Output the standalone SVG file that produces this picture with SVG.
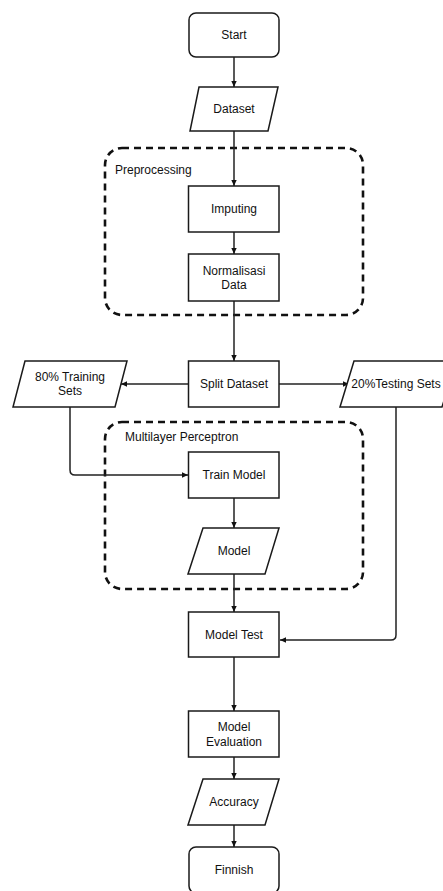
<svg xmlns="http://www.w3.org/2000/svg" width="443" height="891" viewBox="0 0 443 891">
<style>
.n{fill:#fff;stroke:#1a1a1a;stroke-width:1.5}
.t{font-family:"Liberation Sans",Arial,sans-serif;font-size:12px;fill:#111;text-anchor:middle;dominant-baseline:central}
.gl{font-family:"Liberation Sans",Arial,sans-serif;font-size:12px;fill:#111}
.grp{fill:none;stroke:#111;stroke-width:2.6;stroke-dasharray:7 5}
.c{fill:none;stroke:#222;stroke-width:1.5}
</style>
<defs>
<marker id="a" viewBox="0 0 10 10" refX="9" refY="5" markerWidth="7" markerHeight="7" orient="auto" markerUnits="userSpaceOnUse">
<path d="M0,1 L9,5 L0,9 Z" fill="#111"/>
</marker>
</defs>
<rect width="443" height="891" fill="#fff"/>
<g id="preprocessing">
<rect class="grp" x="105" y="148" width="258" height="167" rx="17"/>
<text class="gl" x="115" y="174">Preprocessing</text>
</g>
<g id="mlp">
<rect class="grp" x="105" y="422" width="258" height="167" rx="17"/>
<text class="gl" x="125" y="441">Multilayer Perceptron</text>
</g>
<g id="connectors">
<path class="c" d="M234,57 V87" marker-end="url(#a)"/>
<path class="c" d="M234,131 V186" marker-end="url(#a)"/>
<path class="c" d="M234,232 V254" marker-end="url(#a)"/>
<path class="c" d="M234,301 V361" marker-end="url(#a)"/>
<path class="c" d="M188,384 H121" marker-end="url(#a)"/>
<path class="c" d="M279,384 H349" marker-end="url(#a)"/>
<path class="c" d="M70,407 V470 Q70,475 75,475 H188" marker-end="url(#a)"/>
<path class="c" d="M234,498 V528" marker-end="url(#a)"/>
<path class="c" d="M234,574 V612" marker-end="url(#a)"/>
<path class="c" d="M396,407 V635 Q396,640 391,640 H280" marker-end="url(#a)"/>
<path class="c" d="M234,657 V711" marker-end="url(#a)"/>
<path class="c" d="M234,757 V779" marker-end="url(#a)"/>
<path class="c" d="M234,825 V847" marker-end="url(#a)"/>
</g>
<g id="start">
<rect class="n" x="189" y="13" width="90" height="44" rx="7"/>
<text class="t" x="234" y="35">Start</text>
</g>
<g id="dataset">
<polygon class="n" points="199,87 278,87 268,131 190,131"/>
<text class="t" x="234" y="109">Dataset</text>
</g>
<g id="imputing">
<rect class="n" x="188.5" y="186" width="90.5" height="46"/>
<text class="t" x="234" y="209">Imputing</text>
</g>
<g id="normalisasi">
<rect class="n" x="188.5" y="254" width="90.5" height="47"/>
<text class="t" x="234" y="271">Normalisasi</text>
<text class="t" x="234" y="285">Data</text>
</g>
<g id="split">
<rect class="n" x="188.5" y="361" width="90.5" height="46"/>
<text class="t" x="234" y="384">Split Dataset</text>
</g>
<g id="training">
<polygon class="n" points="25,361 127,361 115,407 13,407"/>
<text class="t" x="70" y="377">80% Training</text>
<text class="t" x="70" y="391">Sets</text>
</g>
<g id="testing">
<polygon class="n" points="354,361 456,361 442,407 340,407"/>
<text class="t" x="396" y="384">20%Testing Sets</text>
</g>
<g id="train">
<rect class="n" x="188.5" y="452" width="90.5" height="46"/>
<text class="t" x="234" y="475">Train Model</text>
</g>
<g id="model">
<polygon class="n" points="203,528 279,528 265,574 188,574"/>
<text class="t" x="234" y="551">Model</text>
</g>
<g id="modeltest">
<rect class="n" x="188.5" y="612" width="90.5" height="45"/>
<text class="t" x="234" y="635">Model Test</text>
</g>
<g id="evaluation">
<rect class="n" x="188.5" y="711" width="90.5" height="46"/>
<text class="t" x="234" y="727">Model</text>
<text class="t" x="234" y="742">Evaluation</text>
</g>
<g id="accuracy">
<polygon class="n" points="203,779 279,779 265,825 188,825"/>
<text class="t" x="234" y="802">Accuracy</text>
</g>
<g id="finish">
<rect class="n" x="189" y="847" width="90" height="46" rx="7"/>
<text class="t" x="234" y="870">Finnish</text>
</g>
</svg>
